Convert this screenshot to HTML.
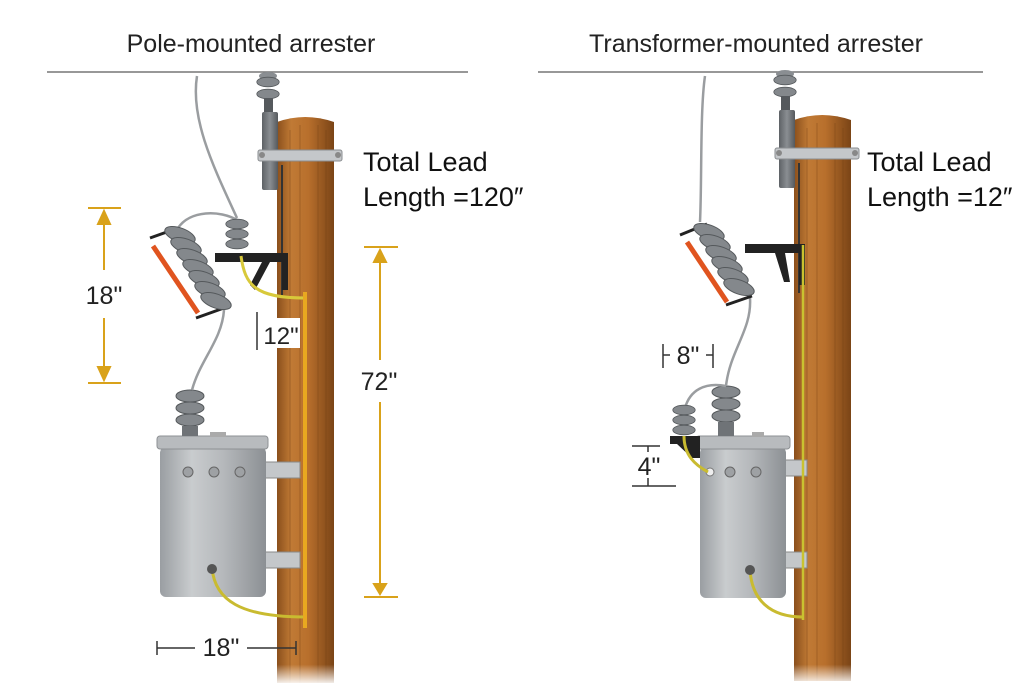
<!DOCTYPE html>
<html><head><meta charset="utf-8"><style>
html,body{margin:0;padding:0;background:#fff;}
svg{display:block;}
text{font-family:"Liberation Sans","DejaVu Sans",sans-serif;}
</style></head><body>
<svg width="1024" height="683" viewBox="0 0 1024 683" xmlns="http://www.w3.org/2000/svg">
<defs>
<linearGradient id="wood" x1="0" x2="1" y1="0" y2="0">
<stop offset="0" stop-color="#8a4f1c"/><stop offset="0.25" stop-color="#c07a35"/><stop offset="0.55" stop-color="#b86f2c"/><stop offset="1" stop-color="#7a4416"/>
</linearGradient>
<linearGradient id="fade" x1="0" x2="0" y1="0" y2="1">
<stop offset="0.85" stop-color="#fff" stop-opacity="0"/><stop offset="1" stop-color="#fff" stop-opacity="0.9"/>
</linearGradient>
<linearGradient id="tank" x1="0" x2="1" y1="0" y2="0">
<stop offset="0" stop-color="#9a9ea2"/><stop offset="0.3" stop-color="#c9ccce"/><stop offset="0.6" stop-color="#b5b8bb"/><stop offset="1" stop-color="#8c9094"/>
</linearGradient>
<linearGradient id="gray" x1="0" x2="1"><stop offset="0" stop-color="#5e6266"/><stop offset="0.5" stop-color="#8a8e92"/><stop offset="1" stop-color="#55595d"/></linearGradient>
<g id="disc"><ellipse cx="0" cy="0" rx="14" ry="6" fill="#84888c" stroke="#55595c" stroke-width="1"/></g>
<g id="pole">
<path d="M277 122 Q305 112 334 122 L334 683 L277 683 Z" fill="url(#wood)"/>
<path d="M290 130 L290 683 M300 125 L300 683 M318 125 L318 683 M326 130 L326 683" stroke="#6e3c12" stroke-width="1" opacity="0.35"/>
<ellipse cx="268" cy="76" rx="9" ry="4" fill="#8a8e92"/>
<use href="#disc" transform="translate(268,82) scale(0.8)"/>
<use href="#disc" transform="translate(268,94) scale(0.8)"/>
<rect x="264" y="98" width="9" height="14" fill="#55595d"/>
<rect x="262" y="112" width="16" height="78" rx="2" fill="url(#gray)"/>
<rect x="258" y="150" width="84" height="11" rx="2" fill="#c4c7ca" stroke="#8a8d90"/>
<circle cx="262" cy="155" r="3" fill="#888"/><circle cx="338" cy="155" r="3" fill="#888"/>
<line x1="282" y1="165" x2="282" y2="295" stroke="#333" stroke-width="2"/>
</g>
</defs>

<text x="251" y="52" font-size="25" text-anchor="middle" fill="#222">Pole-mounted arrester</text>
<text x="756" y="52" font-size="25" text-anchor="middle" fill="#222">Transformer-mounted arrester</text>
<line x1="47" y1="72" x2="468" y2="72" stroke="#777" stroke-width="1.5"/>
<line x1="538" y1="72" x2="983" y2="72" stroke="#777" stroke-width="1.5"/>

<!-- LEFT -->
<use href="#pole"/>
<rect x="262" y="462" width="38" height="16" fill="#c4c7ca" stroke="#888"/>
<rect x="262" y="552" width="38" height="16" fill="#c4c7ca" stroke="#888"/>
<rect x="160" y="447" width="106" height="150" rx="6" fill="url(#tank)"/>
<rect x="157" y="436" width="111" height="13" rx="3" fill="#b8bbbe" stroke="#8e9194"/>
<circle cx="188" cy="472" r="5" fill="#9ea1a4" stroke="#666"/>
<circle cx="214" cy="472" r="5" fill="#9ea1a4" stroke="#666"/>
<circle cx="240" cy="472" r="5" fill="#9ea1a4" stroke="#666"/>
<rect x="210" y="432" width="16" height="5" fill="#aaa"/>
<g transform="translate(190,0)">
<use href="#disc" transform="translate(0,396)"/><use href="#disc" transform="translate(0,408)"/><use href="#disc" transform="translate(0,420)"/><rect x="-8" y="426" width="16" height="10" fill="#6f7377"/>
</g>
<path d="M197 76 C190 120 215 170 237 218" fill="none" stroke="#9a9da0" stroke-width="2.5"/>
<path d="M237 220 C220 210 190 210 178 228" fill="none" stroke="#9a9da0" stroke-width="2.5"/>
<path d="M224 310 C222 340 200 360 192 390" fill="none" stroke="#9a9da0" stroke-width="2.5"/>
<line x1="150" y1="238" x2="178" y2="228" stroke="#222" stroke-width="3"/>
<line x1="196" y1="318" x2="224" y2="308" stroke="#222" stroke-width="3"/>
<line x1="153" y1="246" x2="198" y2="313" stroke="#e0541f" stroke-width="5"/>
<g fill="#84888c" stroke="#55595c">
<ellipse cx="180" cy="235" rx="16" ry="7" transform="rotate(20 180 235)"/>
<ellipse cx="186" cy="246" rx="16" ry="7" transform="rotate(20 186 246)"/>
<ellipse cx="192" cy="257" rx="16" ry="7" transform="rotate(20 192 257)"/>
<ellipse cx="198" cy="268" rx="16" ry="7" transform="rotate(20 198 268)"/>
<ellipse cx="204" cy="279" rx="16" ry="7" transform="rotate(20 204 279)"/>
<ellipse cx="210" cy="290" rx="16" ry="7" transform="rotate(20 210 290)"/>
<ellipse cx="216" cy="301" rx="16" ry="7" transform="rotate(20 216 301)"/>
</g>
<g transform="translate(237,0)">
<use href="#disc" transform="translate(0,224) scale(0.8)"/><use href="#disc" transform="translate(0,234) scale(0.8)"/><use href="#disc" transform="translate(0,244) scale(0.8)"/>
</g>
<path d="M215 253 L288 253 L288 290 L282 290 L282 262 L270 262 L255 290 L250 285 L262 262 L215 262 Z" fill="#222"/>
<path d="M241 256 C245 285 255 298 305 298" fill="none" stroke="#d8c93a" stroke-width="3"/>
<path d="M212 568 C215 600 240 617 305 617" fill="none" stroke="#c9bb30" stroke-width="3"/>
<circle cx="212" cy="569" r="5" fill="#555"/>
<line x1="305" y1="292" x2="305" y2="628" stroke="#e8a820" stroke-width="4"/>

<g stroke="#d9a21a" stroke-width="2" fill="#d9a21a">
<line x1="88" y1="208" x2="121" y2="208"/><line x1="104" y1="222" x2="104" y2="270"/><path d="M98 224 L104 211 L110 224 Z"/>
<line x1="104" y1="318" x2="104" y2="368"/><line x1="88" y1="383" x2="121" y2="383"/><path d="M98 367 L104 380 L110 367 Z"/>
<line x1="364" y1="247" x2="398" y2="247"/><line x1="380" y1="262" x2="380" y2="360"/><path d="M374 262 L380 250 L386 262 Z"/>
<line x1="380" y1="402" x2="380" y2="584"/><line x1="364" y1="597" x2="398" y2="597"/><path d="M374 584 L380 594 L386 584 Z"/>
</g>
<text x="104" y="304" font-size="25" text-anchor="middle" fill="#222">18"</text>
<text x="379" y="390" font-size="25" text-anchor="middle" fill="#222">72"</text>
<rect x="258" y="318" width="42" height="30" fill="#fff"/>
<text x="281" y="344" font-size="24" text-anchor="middle" fill="#222">12"</text>
<line x1="257" y1="312" x2="257" y2="350" stroke="#333" stroke-width="1.5"/>
<g stroke="#333" stroke-width="1.5">
<line x1="157" y1="641" x2="157" y2="655"/><line x1="157" y1="648" x2="195" y2="648"/>
<line x1="247" y1="648" x2="296" y2="648"/><line x1="296" y1="641" x2="296" y2="655"/>
</g>
<text x="221" y="656" font-size="25" text-anchor="middle" fill="#222">18"</text>
<text x="363" y="171" font-size="27" fill="#111">Total Lead</text>
<text x="363" y="206" font-size="27" fill="#111">Length =120″</text>

<!-- RIGHT -->
<g transform="translate(517,-2)"><use href="#pole"/></g>
<rect x="783" y="460" width="24" height="16" fill="#c4c7ca" stroke="#888"/>
<rect x="783" y="552" width="24" height="16" fill="#c4c7ca" stroke="#888"/>
<rect x="700" y="447" width="86" height="151" rx="6" fill="url(#tank)"/>
<rect x="696" y="436" width="94" height="13" rx="3" fill="#b8bbbe" stroke="#8e9194"/>
<circle cx="710" cy="472" r="4" fill="#eee" stroke="#777"/>
<circle cx="730" cy="472" r="5" fill="#9ea1a4" stroke="#666"/>
<circle cx="756" cy="472" r="5" fill="#9ea1a4" stroke="#666"/>
<rect x="752" y="432" width="12" height="5" fill="#aaa"/>
<g transform="translate(726,0)">
<use href="#disc" transform="translate(0,392)"/><use href="#disc" transform="translate(0,404)"/><use href="#disc" transform="translate(0,416)"/><rect x="-8" y="422" width="16" height="14" fill="#6f7377"/>
</g>
<path d="M705 76 C700 110 702 180 700 222" fill="none" stroke="#9a9da0" stroke-width="2.5"/>
<path d="M750 298 C752 330 730 350 726 386" fill="none" stroke="#9a9da0" stroke-width="2.5"/>
<path d="M726 386 C705 382 690 390 685 408" fill="none" stroke="#9a9da0" stroke-width="2.5"/>
<line x1="680" y1="235" x2="707" y2="224" stroke="#222" stroke-width="3"/>
<line x1="726" y1="305" x2="752" y2="296" stroke="#222" stroke-width="3"/>
<line x1="687" y1="242" x2="727" y2="302" stroke="#e0541f" stroke-width="5"/>
<g fill="#84888c" stroke="#55595c">
<ellipse cx="709" cy="232" rx="16" ry="7" transform="rotate(20 709 232)"/>
<ellipse cx="715" cy="243" rx="16" ry="7" transform="rotate(20 715 243)"/>
<ellipse cx="721" cy="254" rx="16" ry="7" transform="rotate(20 721 254)"/>
<ellipse cx="727" cy="265" rx="16" ry="7" transform="rotate(20 727 265)"/>
<ellipse cx="733" cy="276" rx="16" ry="7" transform="rotate(20 733 276)"/>
<ellipse cx="739" cy="287" rx="16" ry="7" transform="rotate(20 739 287)"/>
</g>
<path d="M745 244 L805 244 L805 285 L799 285 L799 253 L785 253 L790 282 L784 282 L775 253 L745 253 Z" fill="#222"/>
<g transform="translate(684,0)">
<use href="#disc" transform="translate(0,410) scale(0.8)"/><use href="#disc" transform="translate(0,420) scale(0.8)"/><use href="#disc" transform="translate(0,430) scale(0.8)"/>
</g>
<path d="M670 436 L700 436 L700 458 L692 458 L677 444 L670 444 Z" fill="#222"/>
<path d="M684 436 C684 455 695 465 708 472" fill="none" stroke="#c9bb30" stroke-width="3"/>
<path d="M750 570 C752 600 770 617 803 617" fill="none" stroke="#c9bb30" stroke-width="3"/>
<circle cx="750" cy="570" r="5" fill="#555"/>
<line x1="803" y1="245" x2="803" y2="620" stroke="#c9c230" stroke-width="2.5"/>
<g stroke="#333" stroke-width="1.5">
<line x1="663" y1="344" x2="663" y2="368"/><line x1="663" y1="355" x2="670" y2="355"/>
<line x1="706" y1="355" x2="713" y2="355"/><line x1="713" y1="344" x2="713" y2="368"/>
<line x1="632" y1="446" x2="660" y2="446"/><line x1="648" y1="446" x2="648" y2="452"/>
<line x1="632" y1="486" x2="676" y2="486"/><line x1="648" y1="478" x2="648" y2="486"/>
</g>
<text x="688" y="364" font-size="25" text-anchor="middle" fill="#222">8"</text>
<text x="649" y="475" font-size="25" text-anchor="middle" fill="#222">4"</text>
<text x="867" y="171" font-size="27" fill="#111">Total Lead</text>
<text x="867" y="206" font-size="27" fill="#111">Length =12″</text>
<rect x="0" y="560" width="1024" height="123" fill="url(#fade)"/>
</svg>
</body></html>
